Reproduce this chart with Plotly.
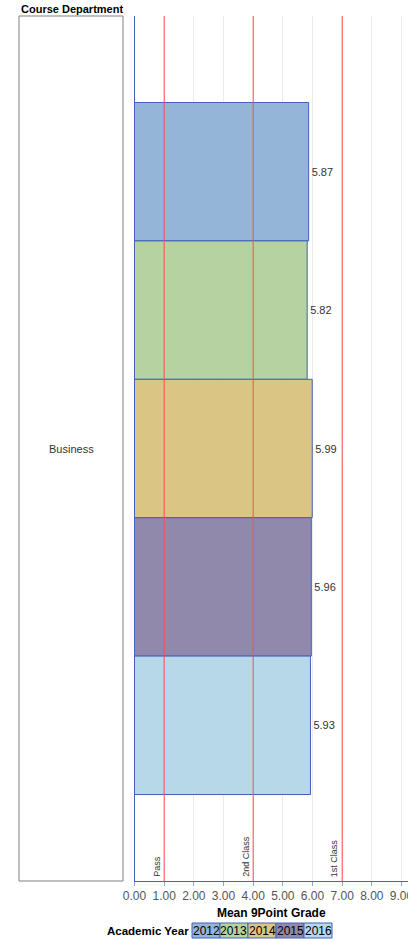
import plotly.graph_objects as go

W, H = 408, 939
department = ["Business"]
years = ["2012", "2013", "2014", "2015", "2016"]
means = [5.87, 5.82, 5.99, 5.96, 5.93]
colors = ["#94B4D8", "#B6D2A1", "#DBC584", "#9189AC", "#B6D8E9"]
ref_values = [1, 4, 7]
ref_labels = ["Pass", "2nd Class", "1st Class"]
x_ticks = [0, 1, 2, 3, 4, 5, 6, 7, 8, 9]

FONT = "Liberation Sans, Arial, sans-serif"
BORDER = "#4263B8"

# plot area pixels
PL, PR, PT, PB = 134.5, 408, 16, 881
PX_PER_UNIT = 29.67


def px_x(p):
    return p / W


def px_y(p):
    return (PB - p) / (PB - PT)


fig = go.Figure()
for yr, v, c in zip(years, means, colors):
    fig.add_trace(go.Bar(
        y=department, x=[v], name=yr, orientation="h",
        marker=dict(color=c, line=dict(color=BORDER, width=1)),
        text=[f"{v:.2f}"], textposition="outside",
        textfont=dict(size=11, color="#333333", family=FONT),
        cliponaxis=False, showlegend=False,
    ))

shapes = []
annotations = []
for v, lab in zip(ref_values, ref_labels):
    shapes.append(dict(type="line", xref="x", yref="paper", x0=v, x1=v, y0=0, y1=1,
                       line=dict(color="#FF4A4A", width=1), layer="above"))
    annotations.append(dict(x=v, y=0, xref="x", yref="paper", text=lab, textangle=-90,
                            showarrow=False, xanchor="right", yanchor="bottom",
                            xshift=-1, yshift=2,
                            font=dict(size=9, color="#333333", family=FONT)))

# category box
shapes.append(dict(type="rect", xref="paper", yref="paper", x0=px_x(19), x1=px_x(123),
                   y0=0, y1=1, line=dict(color="#808080", width=1)))
annotations.append(dict(x=px_x(71), y=0.5, xref="paper", yref="paper", text=department[0],
                        showarrow=False, xanchor="center", yanchor="middle",
                        font=dict(size=11, color="#333333", family=FONT)))
annotations.append(dict(x=px_x(19), y=px_y(9), xref="paper", yref="paper",
                        text="<b>Course Department</b>", showarrow=False,
                        xanchor="left", yanchor="middle",
                        font=dict(size=11, color="#000000", family=FONT)))

# custom legend
ly0, ly1 = 923, 938
annotations.append(dict(x=px_x(191), y=px_y((ly0 + ly1) / 2), xref="paper", yref="paper",
                        text="<b>Academic Year</b>", showarrow=False,
                        xanchor="right", yanchor="middle",
                        font=dict(size=11.5, color="#000000", family=FONT)))
sx = 192
sw = 28
for yr, c in zip(years, colors):
    shapes.append(dict(type="rect", xref="paper", yref="paper",
                       x0=px_x(sx), x1=px_x(sx + sw), y0=px_y(ly1), y1=px_y(ly0),
                       fillcolor=c, line=dict(color=BORDER, width=1)))
    annotations.append(dict(x=px_x(sx + sw / 2), y=px_y((ly0 + ly1) / 2), xref="paper",
                            yref="paper", text=yr, showarrow=False,
                            xanchor="center", yanchor="middle",
                            font=dict(size=12, color="#000000", family=FONT)))
    sx += sw

fig.update_layout(
    width=W, height=H,
    margin=dict(l=0, r=0, t=PT, b=H - PB, autoexpand=False),
    plot_bgcolor="white", paper_bgcolor="white",
    barmode="group", bargap=0.2, bargroupgap=0,
    shapes=shapes, annotations=annotations,
    font=dict(family=FONT),
    showlegend=False,
    xaxis=dict(
        domain=[PL / W, 1], range=[0, (PR - PL) / PX_PER_UNIT],
        automargin=False, ticklabeloverflow="allow",
        tickvals=x_ticks, ticktext=[f"{t:.2f}" for t in x_ticks],
        tickfont=dict(size=12, color="#555555", family=FONT),
        showgrid=True, gridcolor="#EBEBEB", gridwidth=1,
        zeroline=False, showline=True, linecolor=BORDER, linewidth=1,
        ticks="outside", ticklen=4, tickcolor="#8FA8DA",
        title=dict(text="<b>Mean 9Point Grade</b>", standoff=6,
                   font=dict(size=12, color="#000000", family=FONT)),
    ),
    yaxis=dict(
        automargin=False,
        range=[0.5, -0.5], showticklabels=False, showgrid=False, zeroline=False,
        showline=True, linecolor=BORDER, linewidth=1, ticks="",
    ),
)

fig.write_html("out.html")
